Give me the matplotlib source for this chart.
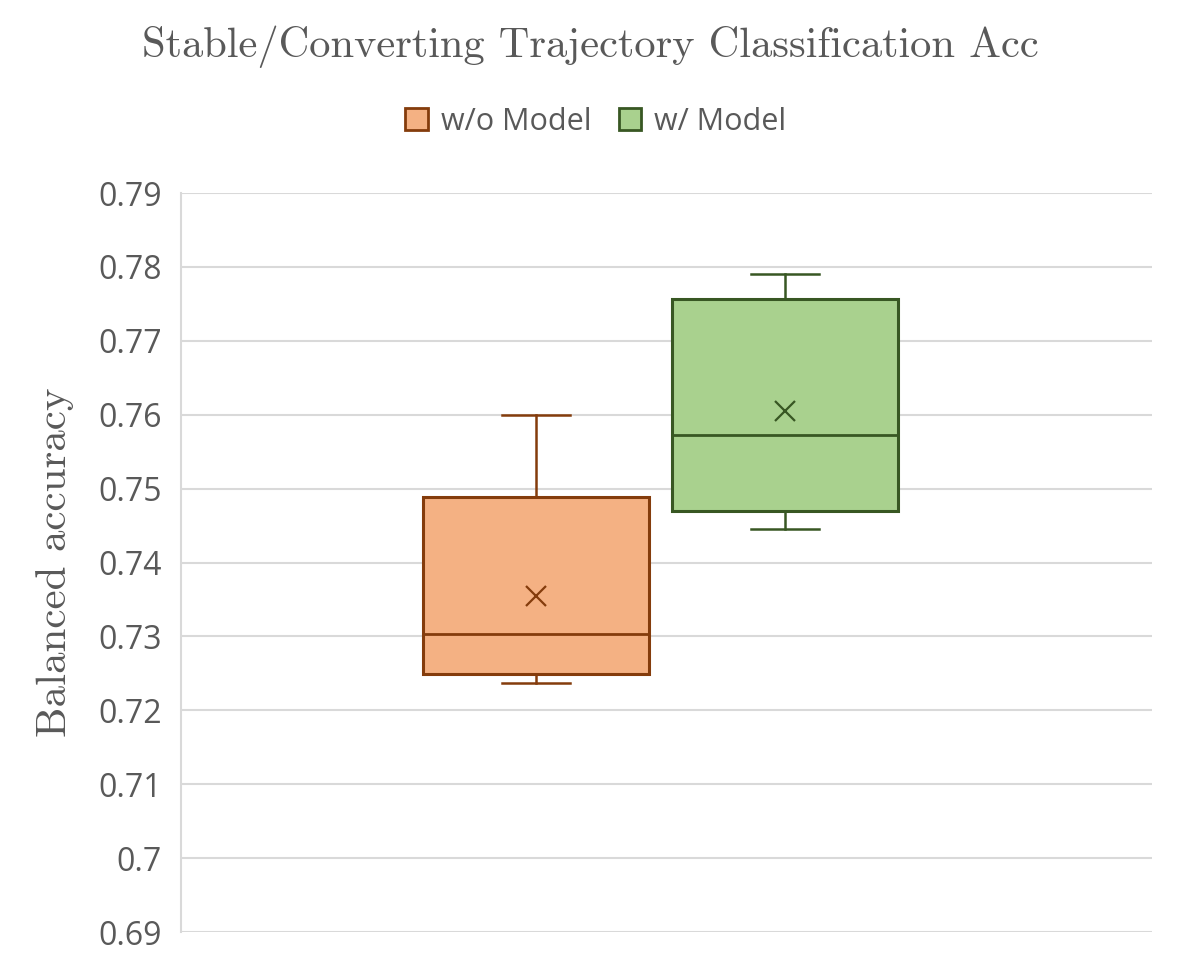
import matplotlib
matplotlib.use("Agg")
import matplotlib.pyplot as plt
from matplotlib.patches import Patch

series = ["w/o Model", "w/ Model"]
whislo = [0.7237, 0.7445]
q1 = [0.7249, 0.7470]
med = [0.7303, 0.7573]
q3 = [0.7489, 0.7757]
whishi = [0.7600, 0.7791]
means = [0.7355, 0.7605]
yticks = [0.69, 0.70, 0.71, 0.72, 0.73, 0.74, 0.75, 0.76, 0.77, 0.78, 0.79]
ytick_labels = ["0.69", "0.7", "0.71", "0.72", "0.73", "0.74", "0.75", "0.76", "0.77", "0.78", "0.79"]

fills = ["#F4B183", "#A9D18E"]
edges = ["#843C0C", "#385723"]
text_gray = "#595959"
grid_gray = "#D9D9D9"

fig = plt.figure(figsize=(11.96, 9.57), dpi=100)
ax = fig.add_axes([0.1513, 0.0261, 0.8119, 0.7722])

positions = [0.3656, 0.622]
for i in range(len(series)):
    stats = [dict(whislo=whislo[i], q1=q1[i], med=med[i], q3=q3[i],
                  whishi=whishi[i], mean=means[i], fliers=[])]
    ax.bxp(stats, positions=[positions[i]], widths=0.2328, patch_artist=True,
           showmeans=True, showfliers=False,
           boxprops=dict(facecolor=fills[i], edgecolor=edges[i], linewidth=2.2),
           medianprops=dict(color=edges[i], linewidth=2.0),
           whiskerprops=dict(color=edges[i], linewidth=1.8),
           capprops=dict(color=edges[i], linewidth=1.8),
           capwidths=0.07,
           meanprops=dict(marker="x", markeredgecolor=edges[i], markersize=14,
                          markeredgewidth=1.6),
           zorder=3)

ax.set_xlim(0, 1)
ax.set_ylim(0.69, 0.79)
ax.set_xticks([])
ax.set_yticks(yticks)
ax.set_yticklabels(ytick_labels, fontfamily="Open Sans", fontsize=23, color=text_gray)
ax.tick_params(axis="y", length=0, pad=14)
ax.grid(axis="y", color=grid_gray, linewidth=1.5, zorder=0)
ax.set_axisbelow(True)
for s in ["top", "right", "bottom"]:
    ax.spines[s].set_visible(False)
ax.spines["left"].set_color(grid_gray)
ax.spines["left"].set_linewidth(1.5)

ax.set_ylabel("Balanced accuracy", fontfamily="cmr10", fontsize=31, color=text_gray, labelpad=17)

fig.text(0.4934, 0.951, "Stable/Converting Trajectory Classification Acc", ha="center", va="center",
         fontfamily="cmr10", fontsize=30.6, color=text_gray)

handles = [Patch(facecolor=fills[i], edgecolor=edges[i], linewidth=2.0) for i in range(len(series))]
fig.legend(handles, series, loc="center", bbox_to_anchor=(0.498, 0.873), ncol=2, frameon=False,
           prop=dict(family="Open Sans", size=22), labelcolor=text_gray,
           handlelength=0.75, handleheight=0.75, handletextpad=0.4, columnspacing=0.9)

fig.savefig("out.png", dpi=100)
